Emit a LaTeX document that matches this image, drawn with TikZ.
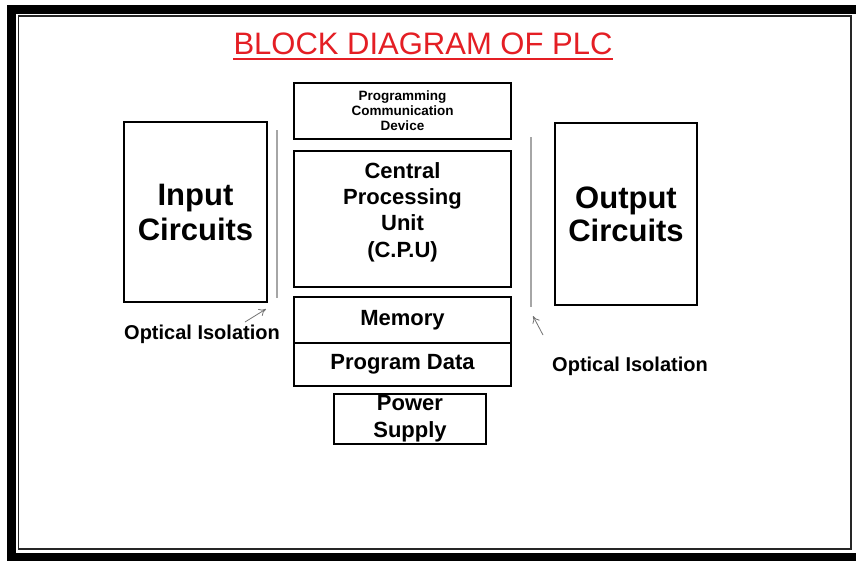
\documentclass[tikz,border=0pt]{standalone}
\usepackage{fontspec}
\setmainfont{Liberation Sans}
\usepackage{xcolor}
\usetikzlibrary{arrows.meta,positioning}

\definecolor{plcred}{RGB}{228,30,36}

\begin{document}
\begin{tikzpicture}[x=1pt, y=-1pt,
    blockbox/.style={draw, line width=2.9pt, inner sep=0pt, align=center,
                     font=\bfseries},
    isoline/.style={draw=black!35, line width=1.5pt},
    isoarrow/.style={-{To[length=7pt,width=8pt]}, draw=black!55, line width=0.8pt},
    isolabel/.style={font=\fontsize{20}{24}\selectfont\bfseries},
  ]
  \useasboundingbox (0,0) rectangle (856,560);
  \fill[white] (0,0) rectangle (856,560);

  % frame
  \draw[line width=9pt] (11,9) rectangle (866,557);
  \draw[line width=1.8pt, black!85] (18.5,16) rectangle (851,549);

  % title
  \node[inner sep=0pt, font=\fontsize{31}{36}\selectfont, text=plcred] (title)
      at (423,44) {BLOCK DIAGRAM OF PLC};
  \draw[plcred, line width=2.2pt]
    ([yshift=-4pt]title.base west) -- ([yshift=-4pt]title.base east);

  % centre column
  \node[blockbox, minimum width=217pt, minimum height=56pt,
        font=\fontsize{13.5}{15}\selectfont\bfseries] (prog) at (402.5,111)
      {Programming\\Communication\\Device};

  \node[blockbox, minimum width=217pt, minimum height=136pt] (cpu) at (402.5,219) {};
  \node[font=\fontsize{22}{26.3}\selectfont\bfseries, align=center] (cputext)
      at (402.5,212) {Central\\Processing\\Unit\\(C.P.U)};

  \node[blockbox, minimum width=217pt, minimum height=46pt,
        font=\fontsize{22}{26}\selectfont\bfseries] (mem) at (402.5,320) {Memory};
  \node[blockbox, minimum width=217pt, minimum height=43pt,
        font=\fontsize{22}{26}\selectfont\bfseries] (pdata) at (402.5,364.5) {Program Data};

  \node[blockbox, minimum width=152pt, minimum height=50pt,
        font=\fontsize{22}{27}\selectfont\bfseries] (power) at (410,419) {Power\\Supply};

  % input / output
  \node[blockbox, minimum width=143pt, minimum height=180pt,
        font=\fontsize{31}{35}\selectfont\bfseries] (input) at (195.5,212) {Input\\Circuits};
  \node[blockbox, minimum width=142pt, minimum height=182pt,
        font=\fontsize{31}{33}\selectfont\bfseries] (output) at (626,214) {Output\\Circuits};

  % optical isolation
  \coordinate (isoLa) at (277,130);
  \coordinate (isoLb) at (277,298);
  \draw[isoline] (isoLa) -- (isoLb);
  \coordinate (isoRa) at (531,137);
  \coordinate (isoRb) at (531,307);
  \draw[isoline] (isoRa) -- (isoRb);

  \coordinate (arrLs) at (245,322);
  \coordinate (arrLe) at (266,309);
  \draw[isoarrow] (arrLs) -- (arrLe);
  \coordinate (arrRs) at (543,335);
  \coordinate (arrRe) at (533,316);
  \draw[isoarrow] (arrRs) -- (arrRe);

  \node[isolabel] (isoL) at (202,334) {Optical Isolation};
  \node[isolabel] (isoR) at (630,366) {Optical Isolation};

\end{tikzpicture}
\end{document}
